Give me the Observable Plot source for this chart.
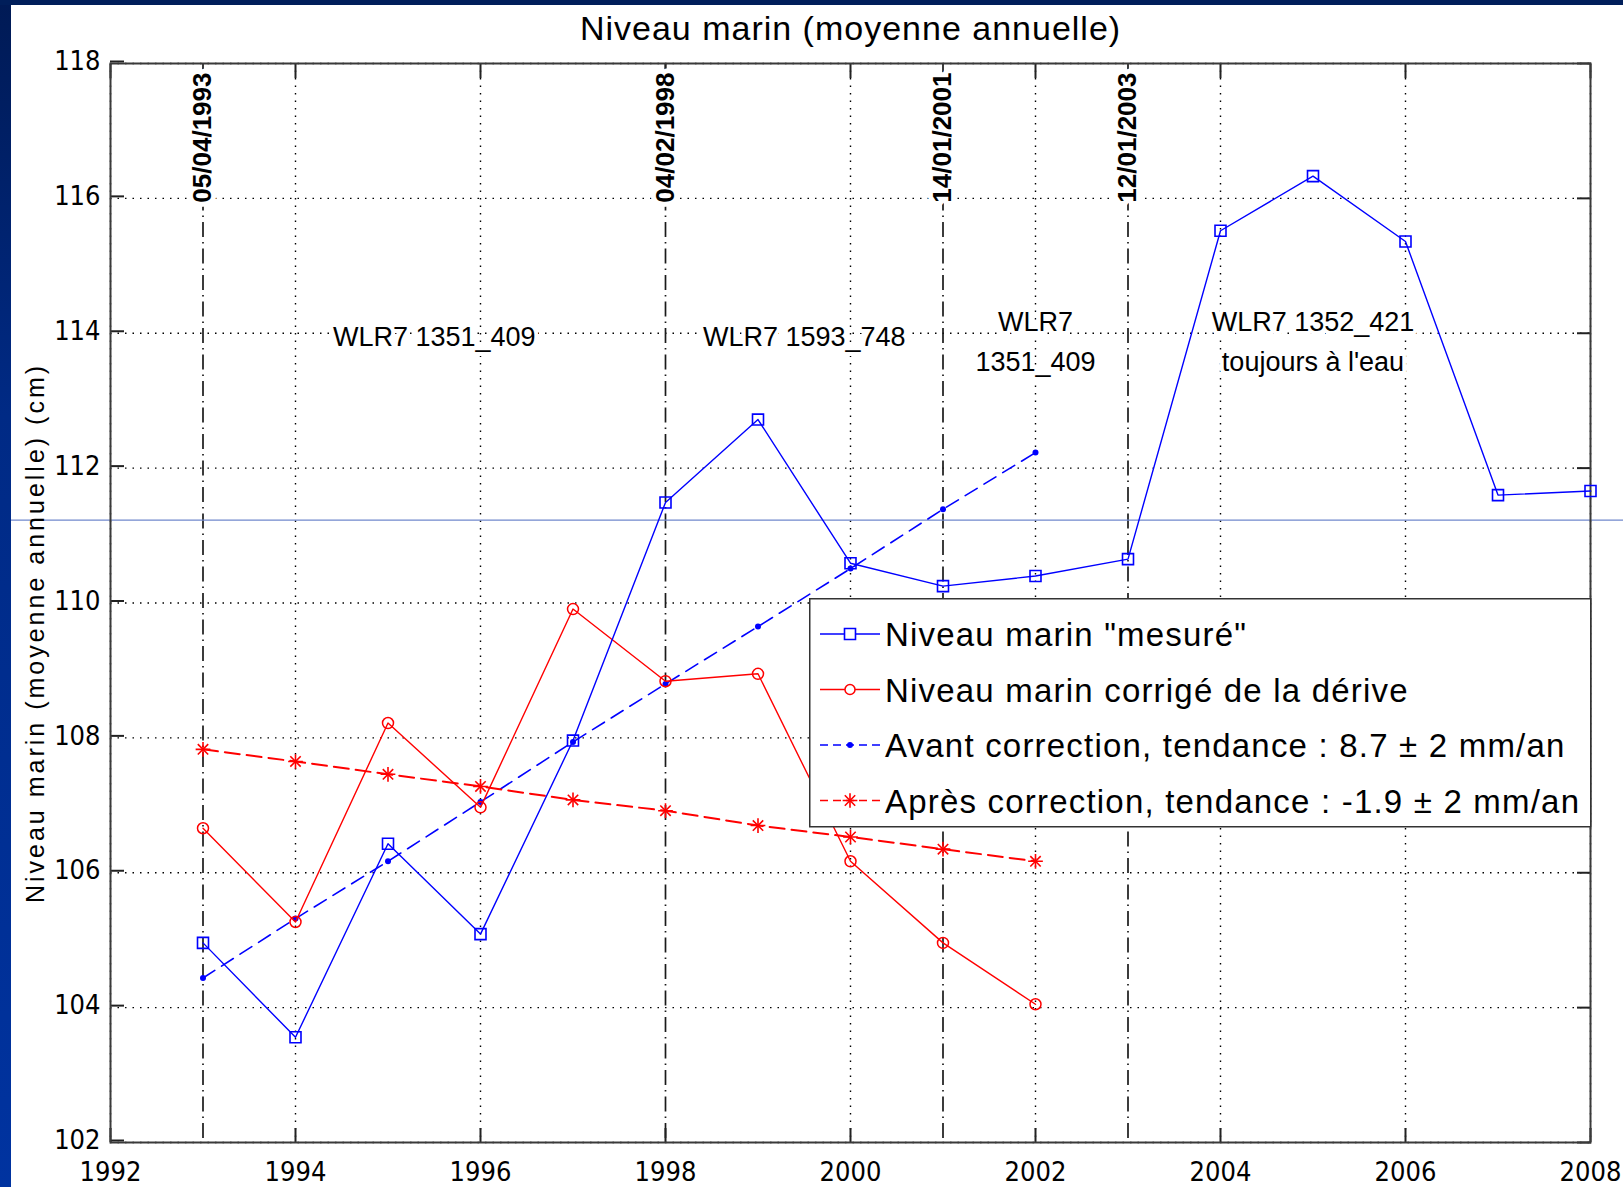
<!DOCTYPE html>
<html>
<head>
<meta charset="utf-8">
<script src="https://cdn.jsdelivr.net/npm/d3@7"></script>
<script src="https://cdn.jsdelivr.net/npm/@observablehq/plot@0.6"></script>
<style>
  html, body { margin: 0; padding: 0; background: #fff; }
  #wrap { position: relative; width: 1623px; height: 1187px; overflow: hidden; background: #fff;
          font-family: "Liberation Sans", Arial, sans-serif; }
  #chart { position: absolute; left: 0; top: 0; }
  #stripLeft { position: absolute; left: 0; top: 0; width: 11px; height: 1187px; z-index: 5;
               background: linear-gradient(#001a55 0%, #002a85 35%, #0033a0 100%); }
  #stripTop { position: absolute; left: 0; top: 0; width: 1623px; height: 5px; z-index: 5; background: #001e5a; }
  #legend { position: absolute; left: 809px; top: 598px; z-index: 4; }
</style>
</head>
<body>
<div id="wrap">
  <div id="chart"></div>
  <div id="legend"></div>
  <div id="stripLeft"></div>
  <div id="stripTop"></div>
</div>
<script>
// ---------------- data ----------------
const years = [1993, 1994, 1995, 1996, 1997, 1998, 1999, 2000, 2001, 2002, 2003, 2004, 2005, 2006, 2007, 2008];
const measured = [104.96, 103.56, 106.43, 105.09, 107.96, 111.49, 112.72, 110.59, 110.25, 110.40, 110.65, 115.52, 116.33, 115.36, 111.60, 111.66];

const corrYears = [1993, 1994, 1995, 1996, 1997, 1998, 1999, 2000, 2001, 2002];
const corrected = [106.66, 105.27, 108.22, 106.97, 109.91, 108.84, 108.95, 106.17, 104.96, 104.05];
const trendBefore = [104.44, 105.32, 106.17, 107.05, 107.94, 108.80, 109.65, 110.51, 111.39, 112.23];
const trendAfter = [107.83, 107.65, 107.46, 107.28, 107.08, 106.92, 106.70, 106.53, 106.35, 106.17];

const eventYears = [1993, 1998, 2001, 2003];
const eventLabels = ["05/04/1993", "04/02/1998", "14/01/2001", "12/01/2003"];

const sensorX = [1995.5, 1999.5, 2002, 2005];
const sensorY = [114, 114, 113.93, 113.93];
const sensorLabels = ["WLR7 1351_409", "WLR7 1593_748", "WLR7\n1351_409", "WLR7 1352_421\ntoujours à l'eau"];

const xTicks = [1992, 1994, 1996, 1998, 2000, 2002, 2004, 2006, 2008];
const yTicks = [102, 104, 106, 108, 110, 112, 114, 116, 118];
const refLevel = 111.23;

const titleText = "Niveau marin (moyenne annuelle)";
const yLabelText = "Niveau marin (moyenne annuelle) (cm)";
const legendLabels = ["Niveau marin \"mesuré\"", "Niveau marin corrigé de la dérive",
  "Avant correction, tendance : 8.7 ± 2 mm/an", "Après correction, tendance : -1.9 ± 2 mm/an"];

// ---------------- tables ----------------
const measuredData = years.map((x, i) => ({x, y: measured[i]}));
const correctedData = corrYears.map((x, i) => ({x, y: corrected[i]}));
const beforeData = corrYears.map((x, i) => ({x, y: trendBefore[i]}));
const afterData = corrYears.map((x, i) => ({x, y: trendAfter[i]}));
const eventData = eventYears.map((x, i) => ({x, label: eventLabels[i]}));
const sensorData = sensorX.map((x, i) => ({x, y: sensorY[i], label: sensorLabels[i]}));

const BLUE = "#0000ff", RED = "#ff0000";
const W = 1623, H = 1187, mL = 110, mR = 33, mT = 63, mB = 45;
const xDom = [1992, 2008], yDom = [102, 118];
const pxPerYear = (W - mL - mR) / (xDom[1] - xDom[0]);
const TICKFONT = "'Liberation Sans Narrow', 'DejaVu Sans Condensed', 'Liberation Sans', sans-serif";

const chart = Plot.plot({
  width: W, height: H,
  marginLeft: mL, marginRight: mR, marginTop: mT, marginBottom: mB,
  style: {background: "transparent", fontFamily: "'Liberation Sans', Arial, sans-serif", color: "#000", overflow: "visible"},
  x: {domain: xDom},
  y: {domain: yDom},
  marks: [
    // grid
    Plot.gridX(xTicks.filter(t => !eventYears.includes(t)), {stroke: "#000", strokeOpacity: 1, strokeWidth: 1.4, strokeDasharray: "1.5,6"}),
    Plot.gridY(yTicks, {stroke: "#000", strokeOpacity: 1, strokeWidth: 1.4, strokeDasharray: "1.5,6"}),
    // event lines
    Plot.ruleX(eventYears, {stroke: "#1a1a1a", strokeWidth: 1.7, strokeDasharray: "15,5,1.5,5"}),
    // reference level line across the slide
    Plot.ruleY([refLevel], {x1: xDom[0] - mL / pxPerYear, x2: xDom[1] + mR / pxPerYear, stroke: "#7088cc", strokeWidth: 1.2, clip: false}),
    // axes with inward ticks
    Plot.axisX(xTicks, {anchor: "bottom", tickSize: -14, tickPadding: 33, tickFormat: d => String(d), fontSize: 27, fontFamily: TICKFONT, label: null, stroke: "#222", strokeWidth: 2}),
    Plot.axisX(xTicks, {anchor: "top", tickSize: -14, tickFormat: () => "", label: null, stroke: "#222", strokeWidth: 2}),
    Plot.axisY(yTicks, {anchor: "left", tickSize: -14, tickPadding: 24, tickFormat: d => String(d), fontSize: 27, fontFamily: TICKFONT, label: null, stroke: "#222", strokeWidth: 2, dy: -2}),
    Plot.axisY(yTicks, {anchor: "right", tickSize: -14, tickFormat: () => "", label: null, stroke: "#222", strokeWidth: 2}),
    Plot.frame({stroke: "#3a3a3a", strokeWidth: 2}),
    // labels on event lines
    Plot.text(eventData, {x: "x", text: "label", frameAnchor: "top", rotate: -90, textAnchor: "end", lineAnchor: "middle",
      dy: 9, fontSize: 26, fontWeight: "bold", fill: "#000", stroke: "#fff", strokeWidth: 10}),
    // sensor labels
    Plot.text(sensorData, {x: "x", y: "y", text: "label", fontSize: 27, lineHeight: 1.48, lineAnchor: "middle",
      fill: "#000", stroke: "#fff", strokeWidth: 8}),
    // trend lines
    Plot.line(beforeData, {x: "x", y: "y", stroke: BLUE, strokeWidth: 1.6, strokeDasharray: "14,8"}),
    Plot.dot(beforeData, {x: "x", y: "y", r: 3, fill: BLUE, stroke: "none"}),
    Plot.line(afterData, {x: "x", y: "y", stroke: RED, strokeWidth: 2, strokeDasharray: "15,7"}),
    Plot.dot(afterData, {x: "x", y: "y", symbol: "plus", r: 4.8, stroke: RED, strokeWidth: 1.6}),
    Plot.dot(afterData, {x: "x", y: "y", symbol: "times", r: 4.8, stroke: RED, strokeWidth: 1.6}),
    // series
    Plot.line(correctedData, {x: "x", y: "y", stroke: RED, strokeWidth: 1.4}),
    Plot.dot(correctedData, {x: "x", y: "y", symbol: "circle", r: 5.5, stroke: RED, strokeWidth: 1.5, fill: "none"}),
    Plot.line(measuredData, {x: "x", y: "y", stroke: BLUE, strokeWidth: 1.4}),
    Plot.dot(measuredData, {x: "x", y: "y", symbol: "square", r: 6.2, stroke: BLUE, strokeWidth: 1.6, fill: "none"}),
    // titles
    Plot.text([titleText], {text: d => d, frameAnchor: "top", dy: -34, fontSize: 34, lineAnchor: "middle", fill: "#000"}),
    Plot.text([yLabelText], {text: d => d, frameAnchor: "left", textAnchor: "middle", rotate: -90, dx: -75, dy: 30, fontSize: 25, lineAnchor: "middle", fill: "#000"})
  ]
});
document.getElementById("chart").appendChild(chart);

// text spacing touches
d3.select(chart).selectAll("text").filter(function() { return this.textContent === titleText; }).attr("letter-spacing", "1px");
d3.select(chart).selectAll("text").filter(function() { return this.textContent === yLabelText; }).attr("letter-spacing", "3px");

// ---------------- legend ----------------
const LW = 781, LH = 228;
const lsvg = d3.select("#legend").append("svg").attr("width", LW + 2).attr("height", LH + 2);
lsvg.append("rect").attr("x", 0.75).attr("y", 0.75).attr("width", LW).attr("height", LH)
  .attr("fill", "#fff").attr("stroke", "#333").attr("stroke-width", 1.5);
const legendStyles = [
  {color: BLUE, dash: null, marker: "square"},
  {color: RED, dash: null, marker: "circle"},
  {color: BLUE, dash: "8,5", marker: "dot"},
  {color: RED, dash: "8,5", marker: "star"}
];
legendLabels.forEach((lab, i) => {
  const base = 48 + i * 55.5, cy = base - 12;
  const st = legendStyles[i];
  const g = lsvg.append("g");
  g.append("line").attr("x1", 11).attr("x2", 71).attr("y1", cy).attr("y2", cy)
    .attr("stroke", st.color).attr("stroke-width", 1.6).attr("stroke-dasharray", st.dash);
  if (st.marker === "square") {
    g.append("path").attr("transform", `translate(41,${cy})`).attr("d", d3.symbol(d3.symbolSquare, 6.2 * 6.2 * Math.PI)())
      .attr("fill", "#fff").attr("stroke", st.color).attr("stroke-width", 1.6);
  } else if (st.marker === "circle") {
    g.append("circle").attr("cx", 41).attr("cy", cy).attr("r", 5).attr("fill", "#fff").attr("stroke", st.color).attr("stroke-width", 1.5);
  } else if (st.marker === "dot") {
    g.append("circle").attr("cx", 41).attr("cy", cy).attr("r", 3).attr("fill", st.color);
  } else {
    g.append("path").attr("transform", `translate(41,${cy})`).attr("d", d3.symbol(d3.symbolPlus, 4.8 * 4.8 * Math.PI)())
      .attr("fill", "none").attr("stroke", st.color).attr("stroke-width", 1.6);
    g.append("path").attr("transform", `translate(41,${cy})`).attr("d", d3.symbol(d3.symbolTimes, 4.8 * 4.8 * Math.PI)())
      .attr("fill", "none").attr("stroke", st.color).attr("stroke-width", 1.6);
  }
  g.append("text").attr("x", 76).attr("y", base).text(lab)
    .attr("font-family", "'Liberation Sans', Arial, sans-serif").attr("font-size", 33)
    .attr("letter-spacing", "1.2px").attr("fill", "#000");
});
</script>
</body>
</html>
